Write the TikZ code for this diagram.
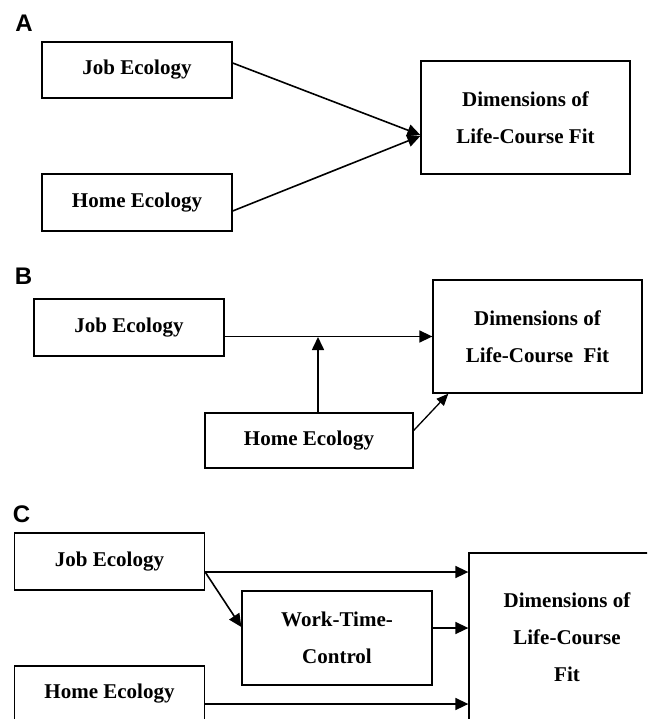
\documentclass[tikz,border=0pt]{standalone}
\usepackage{fontspec}
\setmainfont{Liberation Serif}
\newfontfamily\labelfont{Liberation Sans}
\usetikzlibrary{arrows.meta,calc}
\begin{document}
\begin{tikzpicture}[x=1pt,y=-1pt,
  box/.style={draw, line width=1.3pt, inner sep=0pt, align=center,
    font=\fontsize{21}{37}\selectfont\bfseries},
  arr/.style={line width=1.6pt, -{Triangle[length=13pt,width=12pt]}},
  plabel/.style={font=\labelfont\bfseries\fontsize{24}{24}\selectfont, inner sep=0pt}]
\clip (0,0) rectangle (647,719);
% Panel A
\node[plabel] (la) at (24,23.5) {A};
\node[box, minimum width=190pt, minimum height=56pt] (jobA) at (137,70) {Job Ecology};
\node[box, minimum width=190pt, minimum height=57pt] (homeA) at (137,202.5) {Home Ecology};
\node[box, minimum width=209pt, minimum height=113pt] (dimA) at (525.5,117.5) {Dimensions of\\Life-Course Fit};
\draw[arr] ([yshift=7pt]jobA.east) -- ([yshift=-17.5pt]dimA.west);
\draw[arr] ([yshift=-8.5pt]homeA.east) -- ([yshift=-18.5pt]dimA.west);
% Panel B
\node[plabel] (lb) at (23.5,276.5) {B};
\node[box, minimum width=190pt, minimum height=57pt] (jobB) at (129,327.5) {Job Ecology};
\node[box, minimum width=209pt, minimum height=113pt] (dimB) at (537.5,336.5) {Dimensions of\\Life-Course\ \ Fit};
\node[box, minimum width=208pt, minimum height=55pt] (homeB) at (309,440.5) {Home Ecology};
\draw[arr] (jobB.east |- dimB.west) -- (dimB.west);
\coordinate (mB) at (318,337);
\draw[arr] ([xshift=9pt]homeB.north) -- (mB);
\draw[arr, line width=1.3pt, -{Triangle[length=12pt,width=10pt]}] ([yshift=10pt]homeB.east) -- ([xshift=16pt]dimB.south west);
% Panel C
\node[plabel] (lc) at (21.5,514) {C};
\node[box, minimum width=190pt, minimum height=57pt] (jobC) at (109.5,561.5) {Job Ecology};
\node[box, minimum width=190pt, minimum height=94pt] (wtc) at (337,638) {Work-Time-\\Control};
\node[box, minimum width=196pt, minimum height=169pt] (dimC) at (567,637.5) {Dimensions of\\Life-Course\\Fit};
\node[box, minimum width=190pt, minimum height=56pt] (homeC) at (109.5,694) {Home Ecology};
\draw[arr] ([yshift=-10.5pt]jobC.east) -- ([yshift=-10.5pt]jobC.east -| dimC.west);
\draw[arr] ([yshift=-10.5pt]jobC.east) -- ([yshift=11pt]wtc.west);
\draw[arr] ([yshift=10pt]wtc.east) -- ([yshift=10pt]wtc.east -| dimC.west);
\draw[arr] ([yshift=-10pt]homeC.east) -- ([yshift=-10pt]homeC.east -| dimC.west);
\end{tikzpicture}
\end{document}
